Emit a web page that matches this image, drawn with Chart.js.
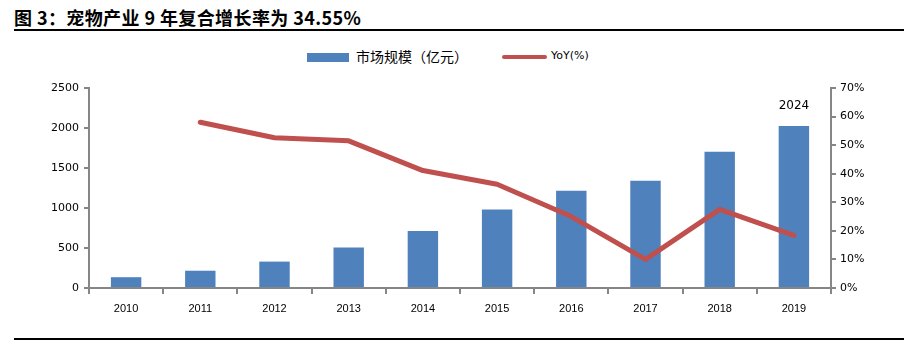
<!DOCTYPE html>
<html>
<head>
<meta charset="utf-8">
<script src="https://cdn.jsdelivr.net/npm/chart.js@4"></script>
<style>
  body { margin: 0; background: #fff; }
  #wrap { position: relative; width: 921px; height: 358px; overflow: hidden; }
  #title { position: absolute; left: 14px; top: 4px; font: bold 18px "Noto Sans CJK SC", serif; letter-spacing: 0.4px; color: #000; white-space: nowrap; }
  .rule { position: absolute; left: 14px; width: 890px; height: 2px; background: #000; }
  .sw { position: absolute; }
  canvas { position: absolute; left: 0; top: 0; }
</style>
</head>
<body>
<div id="wrap">
  <div id="title">图 3：宠物产业 9 年复合增长率为 34.55%</div>
  <div class="rule" style="top:29px"></div>
  <div class="rule" style="top:338px"></div>
  <div class="sw" style="left:307px;top:53px;width:42px;height:9px;background:#4F81BD"></div>
  <div class="sw" style="left:356px;top:46px;font:14px 'Noto Sans CJK SC',sans-serif;white-space:nowrap">市场规模（亿元）</div>
  <div class="sw" style="left:502px;top:55px;width:45px;height:4px;border-radius:2px;background:#C0504D"></div>
  <div class="sw" style="left:551px;top:49px;font:11px 'DejaVu Sans',sans-serif;white-space:nowrap">YoY(%)</div>
  <canvas id="chart" width="921" height="358"></canvas>
</div>
<script>
// 数据
const years = ['2010', '2011', '2012', '2013', '2014', '2015', '2016', '2017', '2018', '2019'];
const marketSize = [135, 216, 330, 505, 713, 980, 1216, 1341, 1704, 2024];
const yoy = [null, 58.0, 52.6, 51.5, 41.1, 36.3, 25.0, 10.0, 27.5, 18.4];
const leftTicks = [0, 500, 1000, 1500, 2000, 2500];
const rightTicks = [0, 10, 20, 30, 40, 50, 60, 70];

const axisColor = '#868686';

// 只在最后一根柱子上标数值
const lastLabel = {
    id: 'lastLabel',
    afterDatasetsDraw(chart) {
        const meta = chart.getDatasetMeta(1);
        const i = marketSize.length - 1;
        const bar = meta.data[i];
        const ctx = chart.ctx;
        ctx.save();
        ctx.font = '12px "DejaVu Sans", sans-serif';
        ctx.fillStyle = '#000';
        ctx.textAlign = 'center';
        ctx.textBaseline = 'bottom';
        ctx.fillText(String(marketSize[i]), bar.x, bar.y - 14);
        ctx.restore();
    }
};

new Chart(document.getElementById('chart').getContext('2d'), {
    type: 'bar',
    data: {
        labels: years,
        datasets: [{
            type: 'line',
            label: 'YoY(%)',
            data: yoy,
            yAxisID: 'y1',
            borderColor: '#C0504D',
            borderWidth: 5,
            pointRadius: 0,
            tension: 0,
            borderCapStyle: 'round',
            borderJoinStyle: 'round',
            spanGaps: false
        }, {
            label: '市场规模（亿元）',
            data: marketSize,
            yAxisID: 'y',
            backgroundColor: '#4F81BD',
            barPercentage: 0.41,
            categoryPercentage: 1
        }]
    },
    options: {
        responsive: false,
        animation: false,
        layout: { padding: { top: 88, left: 0, right: 0, bottom: 0 } },
        plugins: { legend: { display: false }, tooltip: { enabled: false } },
        scales: {
            x: {
                grid: { drawOnChartArea: false, color: axisColor, tickLength: 6, lineWidth: 2, offset: true },
                border: { color: axisColor, width: 2 },
                ticks: { color: '#000', font: { family: 'Liberation Sans', size: 11 }, padding: 8 },
                afterFit(scale) { scale.height = 70; }
            },
            y: {
                position: 'left',
                min: 0, max: 2500,
                afterBuildTicks(scale) { scale.ticks = leftTicks.map(v => ({ value: v })); },
                grid: { drawOnChartArea: false, color: axisColor, tickLength: 5, lineWidth: 2 },
                border: { color: axisColor, width: 2 },
                ticks: { color: '#000', font: { family: 'DejaVu Sans', size: 11 }, padding: 5, callback: v => String(v) },
                afterFit(scale) { scale.width = 89; }
            },
            y1: {
                position: 'right',
                min: 0, max: 70,
                afterBuildTicks(scale) { scale.ticks = rightTicks.map(v => ({ value: v })); },
                grid: { drawOnChartArea: false, color: axisColor, tickLength: 5, lineWidth: 2 },
                border: { color: axisColor, width: 2 },
                ticks: { color: '#000', font: { family: 'DejaVu Sans', size: 11 }, padding: 4, callback: v => v + '%' },
                afterFit(scale) { scale.width = 90; }
            }
        }
    },
    plugins: [lastLabel]
});
</script>
</body>
</html>
